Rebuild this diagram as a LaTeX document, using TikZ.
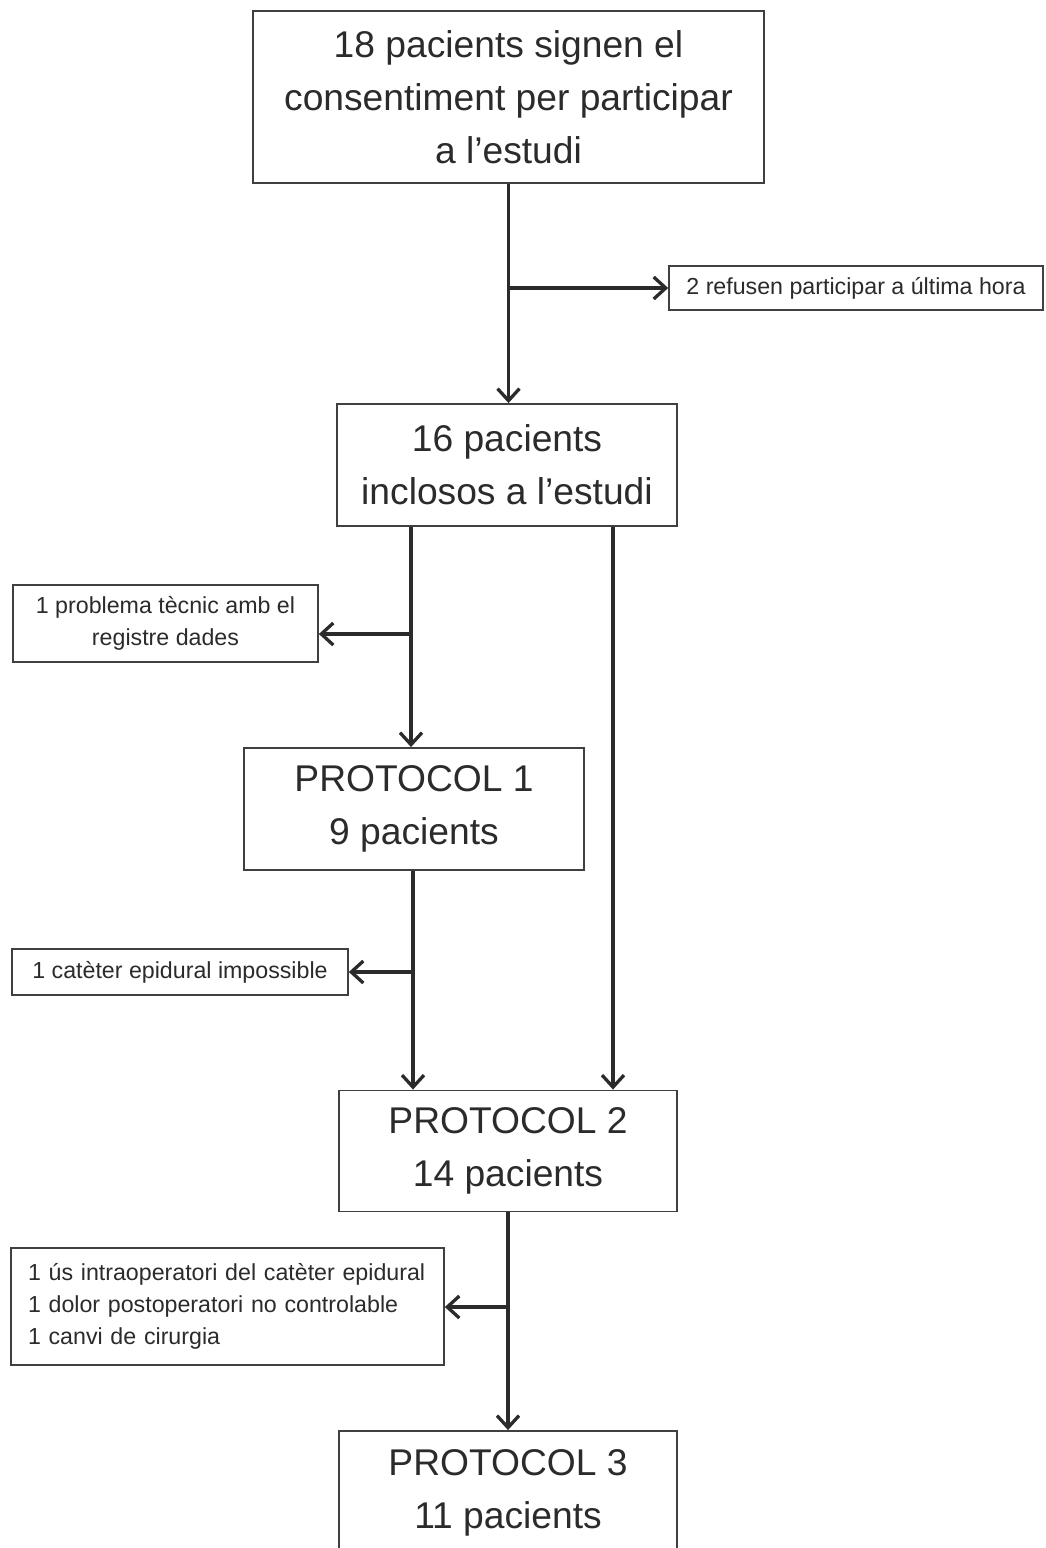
\documentclass[tikz,border=0pt]{standalone}
\usepackage{fontspec}
\setmainfont{Liberation Sans}
\usetikzlibrary{arrows.meta}
\definecolor{ink}{HTML}{2B2B2B}
\definecolor{edge}{HTML}{404040}
\begin{document}
\begin{tikzpicture}[x=1pt,y=-1pt,
  bigbox/.style={draw=edge, line width=1.9pt, text=ink, align=center, inner sep=0pt,
    font=\fontsize{37.2}{53}\selectfont},
  smallbox/.style={draw=edge, line width=1.7pt, text=ink, align=center, inner sep=0pt,
    font=\fontsize{23.2}{32}\selectfont},
  arr/.style={draw=ink, line width=3.3pt, -{Straight Barb[length=12pt,width=22pt,line width=3.3pt]}}]
\useasboundingbox[fill=white] (0,0) rectangle (1045,1548);
\node[bigbox, minimum width=511pt, minimum height=172pt] (b1) at (508.5,97)
  {18 pacients signen el\\consentiment per participar\\a l’estudi};
\node[smallbox, minimum width=374pt, minimum height=44pt] (r1) at (856,288)
  {2 refusen participar a última hora};
\node[bigbox, minimum width=340pt, minimum height=122pt] (b2) at (507,465)
  {16 pacients\\inclosos a l’estudi};
\node[smallbox, minimum width=305pt, minimum height=77pt] (l1) at (165.5,623.5)
  {1 problema tècnic amb el\\registre dades};
\node[bigbox, minimum width=340pt, minimum height=122pt] (p1) at (414,809)
  {PROTOCOL 1\\9 pacients};
\node[smallbox, minimum width=336pt, minimum height=46pt] (l2) at (180,972)
  {1 catèter epidural impossible};
\node[bigbox, minimum width=338pt, minimum height=121pt] (p2) at (508,1151)
  {PROTOCOL 2\\14 pacients};
\node[smallbox, text width=399pt, inner xsep=17pt, minimum height=117pt, align=left] (l3) at (227.5,1306.5)
  {1 ús intraoperatori del catèter epidural\\1 dolor postoperatori no controlable\\1 canvi de cirurgia};
\node[bigbox, minimum width=338pt, minimum height=124pt] (p3) at (508,1493)
  {PROTOCOL 3\\11 pacients};
% connectors
\coordinate (k0) at (508,288);
\draw[arr] (b1.south) -- (b2.north -| b1.south);
\draw[arr] (k0) -- (r1.west);
\coordinate (k1) at (411,634);
\draw[arr] (b2.south -| k1) -- (p1.north -| k1);
\draw[arr] (k1) -- (k1 -| l1.east);
\coordinate (k2) at (613,800);
\draw[arr] (b2.south -| k2) -- (p2.north -| k2);
\coordinate (k3) at (413,972);
\draw[arr] (p1.south -| k3) -- (p2.north -| k3);
\draw[arr] (k3) -- (l2.east);
\coordinate (k4) at (508,1307);
\draw[arr] (p2.south) -- (p3.north);
\draw[arr] (k4) -- (k4 -| l3.east);
\end{tikzpicture}
\end{document}
